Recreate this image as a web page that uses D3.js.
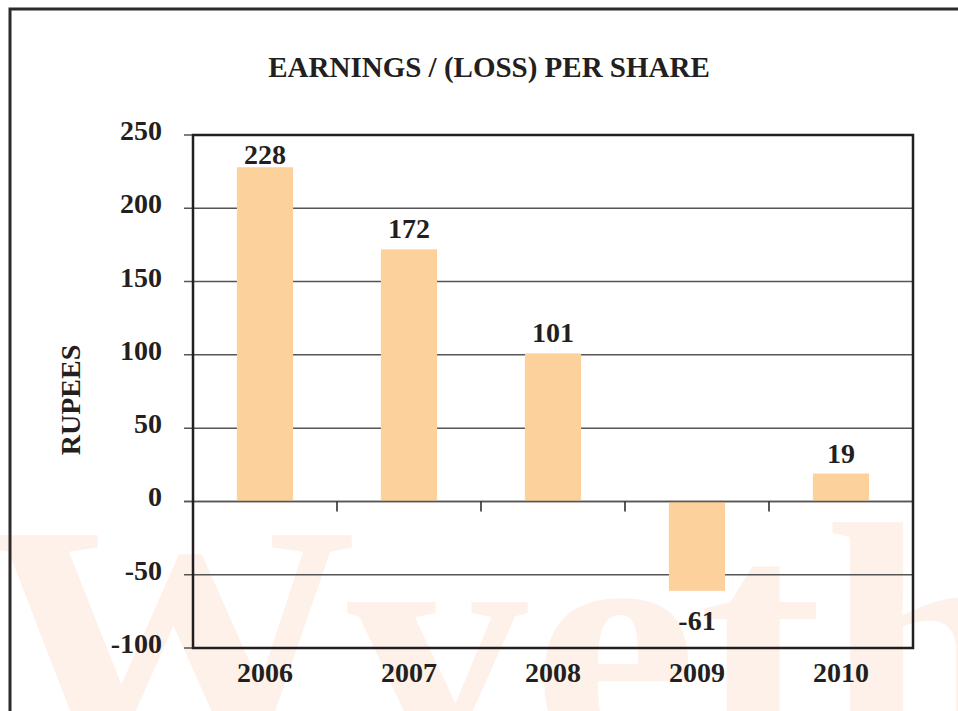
<html>
<head>
<script src="https://d3js.org/d3.v7.min.js"></script>
<style>
  body { margin: 0; background: #fff; }
  text { font-family: "Liberation Serif", "Times New Roman", serif; font-weight: bold; fill: #231f20; }
</style>
</head>
<body>
<svg width="958" height="711"></svg>
<script>
// data
var years = ["2006", "2007", "2008", "2009", "2010"];
var eps = [228, 172, 101, -61, 19];
var yTicks = [250, 200, 150, 100, 50, 0, -50, -100];

var svg = d3.select("svg");

// plot box
var plotL = 193, plotR = 913, plotT = 135, plotB = 648;

// watermark behind everything
svg.append("text")
  .attr("x", -18)
  .attr("y", 758)
  .attr("textLength", 1050)
  .attr("lengthAdjust", "spacingAndGlyphs")
  .style("font-size", "340px")
  .style("fill", "#fef1ea")
  .text("Wyeth");

// outer frame (runs off the right/bottom edge)
svg.append("rect")
  .attr("x", 10).attr("y", 9)
  .attr("width", 1000).attr("height", 800)
  .attr("fill", "none")
  .attr("stroke", "#2b2b2b")
  .attr("stroke-width", 3);

var x = d3.scaleBand().domain(years).range([plotL, plotR]).paddingInner(0.61).paddingOuter(0.305);
var band = d3.scaleBand().domain(years).range([plotL, plotR]);
var y = d3.scaleLinear().domain([-100, 250]).range([plotB, plotT]);

// gridlines
svg.append("g").selectAll("line")
  .data(yTicks)
  .enter().append("line")
  .attr("x1", plotL - 9).attr("x2", plotR)
  .attr("y1", function (d) { return y(d); })
  .attr("y2", function (d) { return y(d); })
  .attr("stroke", "#555")
  .attr("stroke-width", 1.5);

// bars
svg.append("g").selectAll("rect")
  .data(eps)
  .enter().append("rect")
  .attr("x", function (d, i) { return x(years[i]); })
  .attr("width", x.bandwidth())
  .attr("y", function (d) { return y(Math.max(d, 0)); })
  .attr("height", function (d) { return Math.abs(y(d) - y(0)); })
  .attr("fill", "#fdd19c");

// zero line on top of bars
svg.append("line")
  .attr("x1", plotL - 9).attr("x2", plotR)
  .attr("y1", y(0)).attr("y2", y(0))
  .attr("stroke", "#555").attr("stroke-width", 1.5);

// category ticks between bands
svg.append("g").selectAll("line")
  .data(years.slice(1))
  .enter().append("line")
  .attr("x1", function (d) { return band(d); })
  .attr("x2", function (d) { return band(d); })
  .attr("y1", y(0)).attr("y2", y(0) + 10)
  .attr("stroke", "#231f20").attr("stroke-width", 1.5);

// plot border
svg.append("rect")
  .attr("x", plotL).attr("y", plotT)
  .attr("width", plotR - plotL).attr("height", plotB - plotT)
  .attr("fill", "none")
  .attr("stroke", "#231f20")
  .attr("stroke-width", 2.5);

// y tick labels
svg.append("g").selectAll("text")
  .data(yTicks)
  .enter().append("text")
  .attr("x", 162)
  .attr("y", function (d) { return y(d) + 5; })
  .attr("text-anchor", "end")
  .style("font-size", "28px")
  .text(function (d) { return d; });

// x labels
svg.append("g").selectAll("text")
  .data(years)
  .enter().append("text")
  .attr("x", function (d) { return band(d) + band.bandwidth() / 2; })
  .attr("y", 682)
  .attr("text-anchor", "middle")
  .style("font-size", "28px")
  .text(function (d) { return d; });

// value labels (top one pushed down inside the frame)
svg.append("g").selectAll("text")
  .data(eps)
  .enter().append("text")
  .attr("x", function (d, i) { return band(years[i]) + band.bandwidth() / 2; })
  .attr("y", function (d) { return d >= 0 ? Math.max(y(d) - 11, plotT + 29) : y(d) + 39; })
  .attr("text-anchor", "middle")
  .style("font-size", "28px")
  .text(function (d) { return d; });

// title
svg.append("text")
  .attr("x", 489).attr("y", 77)
  .attr("text-anchor", "middle")
  .style("font-size", "29px")
  .text("EARNINGS / (LOSS) PER SHARE");

// y axis title
svg.append("text")
  .attr("transform", "translate(80,400) rotate(-90)")
  .attr("text-anchor", "middle")
  .style("font-size", "28px")
  .text("RUPEES");
</script>
</body>
</html>
